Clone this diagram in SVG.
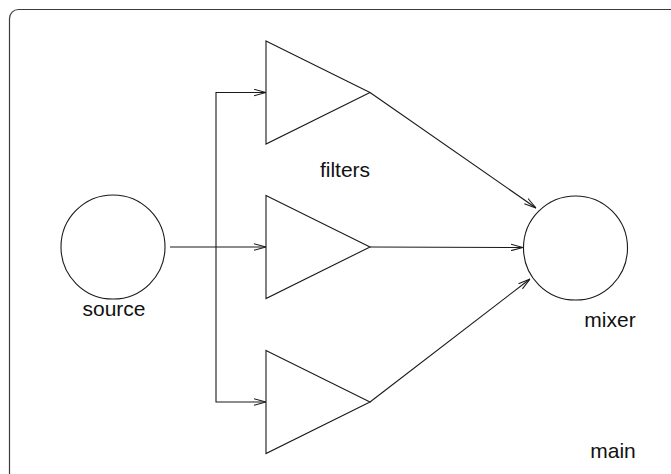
<svg xmlns="http://www.w3.org/2000/svg" width="671" height="474" viewBox="0 0 671 474">
  <style>
    .frame { fill: #ffffff; stroke: #3c3c3c; stroke-width: 1.2; }
    .shape { fill: #ffffff; stroke: #1a1a1a; stroke-width: 1.1; }
    .wire { fill: none; stroke: #1a1a1a; stroke-width: 1.1; }
    .label { font-family: "Liberation Sans", Arial, sans-serif; font-size: 21px; fill: #111111; }
  </style>
  <defs>
    <marker id="arrow" viewBox="0 0 12 8" refX="12" refY="4" markerWidth="12" markerHeight="8" markerUnits="userSpaceOnUse" orient="auto">
      <path d="M0,0.8 L12,4 L0,7.2" fill="none" stroke="#1a1a1a" stroke-width="1.1"/>
    </marker>
  </defs>

  <!-- enclosing block "main" -->
  <rect class="frame" x="9.5" y="9.5" width="680" height="480" rx="9" ry="9"/>

  <g id="connectors">
    <line class="wire" x1="170" y1="247" x2="266" y2="247" marker-end="url(#arrow)"/>
    <polyline class="wire" points="216,247 216,92.5 266,92.5" marker-end="url(#arrow)"/>
    <polyline class="wire" points="216,247 216,402 266,402" marker-end="url(#arrow)"/>
    <line class="wire" x1="370" y1="92.5" x2="536" y2="208" marker-end="url(#arrow)"/>
    <line class="wire" x1="370" y1="247" x2="523" y2="247.5" marker-end="url(#arrow)"/>
    <line class="wire" x1="370" y1="402" x2="530" y2="279" marker-end="url(#arrow)"/>
  </g>

  <g id="source">
    <circle class="shape" cx="113" cy="247" r="52"/>
    <text class="label" x="114" y="316" text-anchor="middle">source</text>
  </g>

  <g id="filter1">
    <polygon class="shape" points="266,41 370,92.5 266,144"/>
  </g>
  <g id="filter2">
    <polygon class="shape" points="266,195.5 370,247 266,298.5"/>
  </g>
  <g id="filter3">
    <polygon class="shape" points="266,350.5 370,402 266,453.5"/>
  </g>
  <text class="label" x="345" y="176.5" text-anchor="middle">filters</text>

  <g id="mixer">
    <circle class="shape" cx="575.5" cy="248" r="52"/>
    <text class="label" x="610" y="327" text-anchor="middle">mixer</text>
  </g>

  <text class="label" x="613" y="458" text-anchor="middle">main</text>
</svg>
